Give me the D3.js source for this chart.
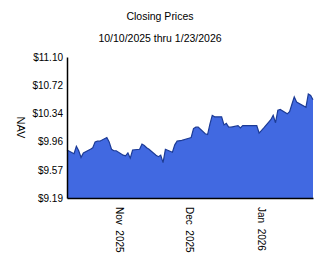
<!DOCTYPE html>
<html>
<head>
<meta charset="utf-8">
<script src="https://cdn.jsdelivr.net/npm/d3@7"></script>
<style>
    body { margin: 0; background: #fff; }
    text { font-family: Arial, "Liberation Sans", sans-serif; fill: #000; }
</style>
</head>
<body>
<div id="navChart"></div>
<script>
let tradeDates = [
    "2025-10-10", "2025-10-13", "2025-10-14", "2025-10-15", "2025-10-16", "2025-10-17",
    "2025-10-20", "2025-10-21", "2025-10-22", "2025-10-23", "2025-10-24",
    "2025-10-27", "2025-10-28", "2025-10-29", "2025-10-30", "2025-10-31",
    "2025-11-03", "2025-11-04", "2025-11-05", "2025-11-06", "2025-11-07",
    "2025-11-10", "2025-11-11", "2025-11-12", "2025-11-13", "2025-11-14",
    "2025-11-17", "2025-11-18", "2025-11-19", "2025-11-20", "2025-11-21",
    "2025-11-24", "2025-11-25", "2025-11-26", "2025-11-28",
    "2025-12-01", "2025-12-02", "2025-12-03", "2025-12-04", "2025-12-05",
    "2025-12-08", "2025-12-09", "2025-12-10", "2025-12-11", "2025-12-12",
    "2025-12-15", "2025-12-16", "2025-12-17", "2025-12-18", "2025-12-19",
    "2025-12-22", "2025-12-23", "2025-12-24", "2025-12-26",
    "2025-12-29", "2025-12-30", "2025-12-31", "2026-01-02",
    "2026-01-05", "2026-01-06", "2026-01-07", "2026-01-08", "2026-01-09",
    "2026-01-12", "2026-01-13", "2026-01-14", "2026-01-15", "2026-01-16",
    "2026-01-20", "2026-01-21", "2026-01-22", "2026-01-23"
]

let navValues = [
    9.84, 9.79, 9.89, 9.83, 9.74, 9.80,
    9.85, 9.87, 9.95, 9.96, 9.96,
    10.01, 9.95, 9.85, 9.83, 9.83,
    9.77, 9.76, 9.80, 9.73, 9.84,
    9.85, 9.92, 9.90, 9.87, 9.85,
    9.77, 9.75, 9.77, 9.67, 9.85,
    9.81, 9.91, 9.96, 9.97,
    10.00, 10.01, 10.13, 10.15, 10.15,
    10.06, 10.05, 10.19, 10.31, 10.29,
    10.29, 10.18, 10.20, 10.15, 10.15,
    10.17, 10.14, 10.17, 10.17,
    10.17, 10.17, 10.07, 10.14,
    10.25, 10.31, 10.21, 10.38, 10.39,
    10.33, 10.36, 10.46, 10.56, 10.49,
    10.42, 10.60, 10.58, 10.52
]

let yMin = 9.19
let yMax = 11.10
let yTickLabels = ["$9.19", "$9.57", "$9.96", "$10.34", "$10.72", "$11.10"]

let xTickDates = ["2025-11-01", "2025-12-01", "2026-01-01"]
let xTickLabels = ["Nov  2025", "Dec  2025", "Jan  2026"]

let chartTitle = "Closing Prices"
let chartSubtitle = "10/10/2025 thru 1/23/2026"
let yAxisTitle = "NAV"

let parseDate = d3.timeParse("%Y-%m-%d")

let data = tradeDates.map((d, i) => ({ date: parseDate(d), nav: navValues[i] }))

let margin = { top: 57, right: 11, bottom: 69, left: 67 }
let width = 324 - margin.left - margin.right
let height = 267 - margin.top - margin.bottom

let svg = d3.select("#navChart")
    .append("svg")
    .attr("width", 324)
    .attr("height", 267)

svg.append("text")
    .attr("x", 160)
    .attr("y", 20)
    .attr("text-anchor", "middle")
    .style("font-size", "10.5px")
    .text(chartTitle)

svg.append("text")
    .attr("x", 160)
    .attr("y", 42)
    .attr("text-anchor", "middle")
    .style("font-size", "10.5px")
    .text(chartSubtitle)

let g = svg.append("g")
    .attr("transform", "translate(" + margin.left + "," + margin.top + ")")

let xScale = d3.scaleTime()
    .domain([parseDate(tradeDates[0]), parseDate(tradeDates[tradeDates.length - 1])])
    .range([0, width])

let yScale = d3.scaleLinear()
    .domain([yMin, yMax])
    .range([height, 0])

let area = d3.area()
    .x(d => xScale(d.date))
    .y0(height)
    .y1(d => yScale(d.nav))

let line = d3.line()
    .x(d => xScale(d.date))
    .y(d => yScale(d.nav))

g.append("path")
    .datum(data)
    .attr("d", area)
    .style("fill", "#4169e1")

g.append("path")
    .datum(data)
    .attr("d", line)
    .style("fill", "none")
    .style("stroke", "#1c3b96")
    .style("stroke-width", 1.2)

// y axis: evenly spaced ticks between min and max
let yTickValues = yTickLabels.map((t, i) => yMin + i * (yMax - yMin) / (yTickLabels.length - 1))

let yAxis = g.append("g")
    .call(d3.axisLeft(yScale)
        .tickValues(yTickValues)
        .tickSize(0)
        .tickPadding(4)
        .tickFormat((d, i) => yTickLabels[i]))

yAxis.select(".domain")
    .attr("stroke", "#000")
    .attr("stroke-width", 1.5)

yAxis.selectAll("text")
    .style("font-size", "10px")
    .style("font-family", "Arial, 'Liberation Sans', sans-serif")

// x axis: month starts, labels rotated
let xAxis = g.append("g")
    .attr("transform", "translate(0," + height + ")")
    .call(d3.axisBottom(xScale)
        .tickValues(xTickDates.map(parseDate))
        .tickSize(0)
        .tickFormat((d, i) => xTickLabels[i]))

xAxis.select(".domain")
    .attr("stroke", "#000")
    .attr("stroke-width", 1.5)

xAxis.selectAll("text")
    .attr("y", 0)
    .attr("dy", 0)
    .attr("transform", "translate(0,9) rotate(90)")
    .attr("text-anchor", "start")
    .attr("dominant-baseline", "central")
    .style("white-space", "pre")
    .style("font-size", "10px")
    .style("font-family", "Arial, 'Liberation Sans', sans-serif")

svg.append("text")
    .attr("transform", "translate(21," + (margin.top + height / 2) + ") rotate(90)")
    .attr("text-anchor", "middle")
    .attr("dominant-baseline", "central")
    .style("font-size", "11px")
    .text(yAxisTitle)
</script>
</body>
</html>
